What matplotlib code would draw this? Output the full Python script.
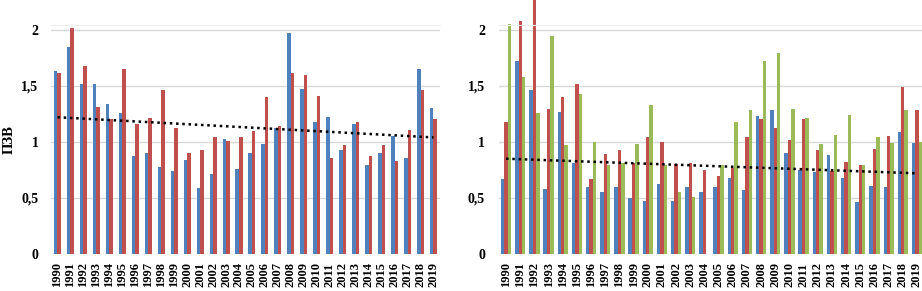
"""Recreate two-panel grouped bar chart (ПЗВ by year) with dotted trend lines."""

import matplotlib.pyplot as plt
import numpy as np

# Data
years = list(range(1990, 2020))

left_blue = [1.63, 1.85, 1.52, 1.52, 1.34, 1.26, 0.87, 0.90, 0.78, 0.74,
             0.84, 0.59, 0.71, 1.03, 0.76, 0.90, 0.98, 1.12, 1.97, 1.47,
             1.18, 1.22, 0.93, 1.16, 0.79, 0.90, 1.05, 0.86, 1.65, 1.30]
left_red = [1.61, 2.02, 1.68, 1.31, 1.20, 1.65, 1.16, 1.21, 1.46, 1.12,
            0.90, 0.93, 1.04, 1.01, 1.04, 1.10, 1.40, 1.14, 1.61, 1.60,
            1.41, 0.86, 0.97, 1.18, 0.87, 0.97, 0.83, 1.11, 1.46, 1.20]
left_trend = [1.22, 1.04]

right_blue = [0.67, 1.72, 1.46, 0.58, 1.27, 0.81, 0.60, 0.55, 0.60, 0.50,
              0.47, 0.62, 0.47, 0.60, 0.55, 0.60, 0.68, 0.57, 1.23, 1.28,
              0.90, 0.75, 0.73, 0.88, 0.68, 0.46, 0.61, 0.60, 1.09, 0.99]
right_red = [1.18, 2.08, 2.35, 1.29, 1.40, 1.52, 0.67, 0.89, 0.93, 0.81,
             1.04, 1.00, 0.80, 0.81, 0.75, 0.70, 0.77, 1.04, 1.20, 1.12,
             1.02, 1.20, 0.93, 0.74, 0.82, 0.79, 0.94, 1.05, 1.49, 1.28]
right_green = [2.05, 1.58, 1.26, 1.94, 0.97, 1.43, 1.00, 0.79, 0.81, 0.98,
               1.33, 0.79, 0.55, 0.51, np.nan, 0.79, 1.18, 1.28, 1.72, 1.79,
               1.29, 1.21, 0.98, 1.06, 1.24, 0.79, 1.04, 0.99, 1.28, 1.00]
right_trend = [0.85, 0.72]

y_ticks = [0, 0.5, 1, 1.5, 2]
y_tick_labels = ["0", "0,5", "1", "1,5", "2"]
y_label = "ПЗВ"

# Style
plt.rcParams["font.family"] = ["Liberation Serif", "DejaVu Serif"]
plt.rcParams["font.weight"] = "bold"

color_blue = "#4F81BD"
color_red = "#C0504D"
color_green = "#9BBB59"
grid_color = "#D9D9D9"

fig = plt.figure(figsize=(9.22, 2.91), dpi=100)
ax1 = fig.add_axes([0.0553, 0.1271, 0.4219, 0.786])
ax2 = fig.add_axes([0.5412, 0.1271, 0.4610, 0.786])

x = np.array(years, dtype=float)


def style_axis(ax, pad):
    ax.set_xlim(1989.5, 2019.5)
    ax.set_ylim(0, 2.04)
    ax.set_yticks(y_ticks)
    ax.set_yticklabels(y_tick_labels, fontsize=10, fontweight="bold")
    ax.set_xticks(years)
    ax.set_xticklabels([str(y) for y in years], rotation=90,
                       fontsize=9, fontweight="bold")
    ax.tick_params(axis="both", length=0)
    ax.tick_params(axis="y", pad=pad)
    ax.tick_params(axis="x", pad=6)
    ax.grid(True, axis="y", color=grid_color, linewidth=1)
    ax.set_axisbelow(True)
    for side in ["left", "right", "bottom"]:
        ax.spines[side].set_visible(False)
    ax.spines["top"].set_color("#EEEEEE")


# Left panel: two series
w1 = 0.27
ax1.bar(x - w1 / 2, left_blue, width=w1, color=color_blue)
ax1.bar(x + w1 / 2, left_red, width=w1, color=color_red)
ax1.plot([years[0], years[-1]], left_trend, color="black",
         linestyle=(0, (1, 1.5)), linewidth=1.8)
style_axis(ax1, pad=9)
ax1.set_ylabel(y_label, fontsize=10.5, fontweight="bold")
ax1.yaxis.set_label_coords(-0.09, 0.5)

# Right panel: three series
w2 = 0.24
ax2.bar(x - w2, right_blue, width=w2, color=color_blue, clip_on=False)
ax2.bar(x, right_red, width=w2, color=color_red, clip_on=False)
ax2.bar(x + w2, right_green, width=w2, color=color_green, clip_on=False)
ax2.plot([years[0], years[-1]], right_trend, color="black",
         linestyle=(0, (1, 1.5)), linewidth=1.8)
style_axis(ax2, pad=10)

fig.savefig("out.png", dpi=100)
